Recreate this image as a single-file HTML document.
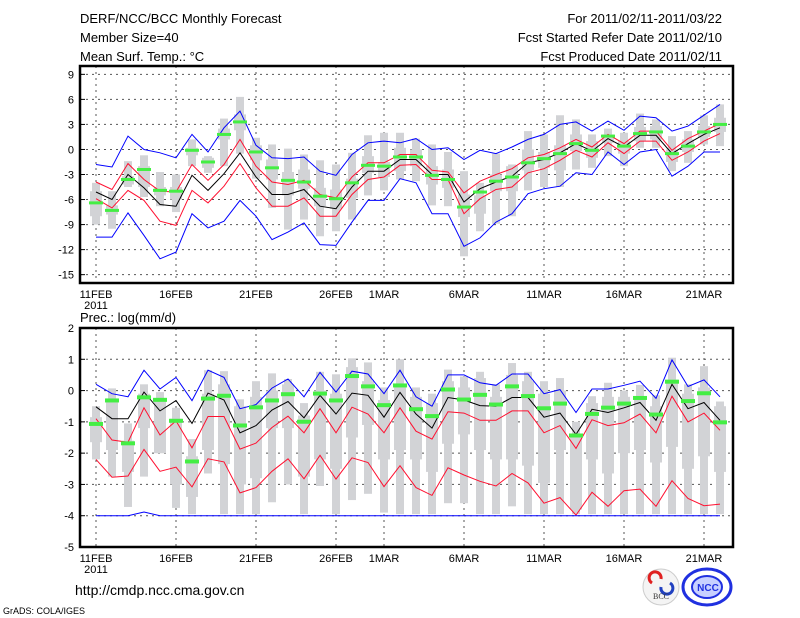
<!DOCTYPE html>
<html><head><meta charset="utf-8"><style>
html,body{margin:0;padding:0;background:#fff;}
svg{display:block;font-family:"Liberation Sans",sans-serif;}
</style></head><body>
<svg id="chart" width="800" height="618" viewBox="0 0 800 618" xmlns="http://www.w3.org/2000/svg">
<rect width="800" height="618" fill="#fff"/>
<g font-size="13" fill="#000">
<text x="80" y="23">DERF/NCC/BCC Monthly Forecast</text>
<text x="80" y="42">Member Size=40</text>
<text x="80" y="61">Mean Surf. Temp.: °C</text>
<text x="722" y="23" text-anchor="end">For 2011/02/11-2011/03/22</text>
<text x="722" y="42" text-anchor="end">Fcst Started Refer Date 2011/02/10</text>
<text x="722" y="61" text-anchor="end">Fcst Produced Date 2011/02/11</text>
</g>
<text x="80" y="322" font-size="13">Prec.: log(mm/d)</text>
<text x="75" y="595" font-size="14">http://cmdp.ncc.cma.gov.cn</text>
<text x="3" y="614" font-size="9">GrADS: COLA/IGES</text>
<g>
<circle cx="661" cy="587" r="18" fill="#f4f4f4" stroke="#ccc"/>
<path d="M652,583 a6,6 0 1 1 9,-4" stroke="#e02020" stroke-width="3" fill="none"/>
<path d="M670,583 a6,6 0 1 1 -9,4" stroke="#2040c0" stroke-width="3" fill="none"/>
<text x="661" y="599" font-size="8" text-anchor="middle" font-family="Liberation Serif,serif" fill="#333">BCC</text>
</g>
<g>
<ellipse cx="707" cy="587" rx="24" ry="18" fill="none" stroke="#2030e0" stroke-width="3"/>
<ellipse cx="707" cy="587" rx="15" ry="11" fill="#c8d0ff" stroke="#2030e0" stroke-width="2"/>
<text x="708" y="591" font-size="10" font-weight="bold" text-anchor="middle" fill="#2030e0">NCC</text>
</g>
<g id="top"></g>
<g id="bot"></g>
</svg>
<script>
// ---- Temperature panel data (40 days, 11FEB..22MAR) ----
const tBlueHi=[-1.8,-2.1,1.6,0,-0.4,-1.0,1.8,-0.3,2.6,4.6,0.5,-1.0,-1.1,-0.9,-2.6,-3.1,-0.6,0.8,1.0,0.8,1.3,0,0.2,-1.2,-0.1,-0.5,0.3,1.2,1.8,3.0,3.3,2.2,3.4,2.3,4.0,3.8,2.2,2.8,4.1,5.4];
const tRedHi=[-3.9,-4.8,-1.7,-3.6,-5.0,-5.1,-1.8,-3.7,-1.8,1.2,-2.0,-3.9,-4.2,-3.7,-5.4,-5.8,-3.3,-1.6,-1.6,-0.6,-0.6,-2.5,-2.7,-5.2,-3.8,-3.0,-2.3,-1.0,-0.6,0.2,1.2,0.3,1.8,0.7,2.2,2.2,-0.1,1.3,2.2,3.1];
const tMean=[-5.1,-6.0,-3.0,-4.6,-6.6,-6.8,-3.1,-4.9,-2.9,-0.4,-3.3,-5.4,-5.4,-4.8,-6.8,-7.1,-4.5,-2.6,-2.6,-1.2,-1.2,-3.0,-3.0,-6.3,-4.7,-3.9,-3.2,-1.6,-1.2,-0.4,0.7,-0.2,1.3,0.3,1.7,1.7,-0.5,0.7,1.8,2.6];
const tRedLo=[-5.9,-7.0,-4.9,-6.1,-8.6,-9.1,-4.9,-6.4,-4.4,-1.7,-4.6,-6.8,-6.8,-5.8,-8.0,-8.0,-5.4,-3.6,-3.3,-1.9,-1.8,-3.6,-3.6,-7.7,-5.9,-4.8,-4.5,-2.8,-2.3,-1.3,-0.1,-0.9,0.8,-0.5,1.0,1.0,-1.3,-0.3,1.0,1.9];
const tBlueLo=[-10.5,-10.5,-7.6,-10.3,-13.1,-12.3,-7.7,-9.4,-8.6,-6.1,-8.0,-10.8,-9.9,-8.8,-11.4,-11.5,-8.7,-6.1,-6.1,-3.5,-4.0,-7.7,-7.7,-11.6,-10.6,-8.7,-7.7,-5.3,-4.7,-4.4,-2.8,-3.0,-0.3,-1.8,-0.3,0.0,-3.2,-2.0,-0.3,-0.3];
const tObs=[-6.4,-7.3,-3.6,-2.4,-4.9,-5.0,-0.1,-1.5,1.8,3.3,-0.3,-2.2,-3.7,-3.9,-5.6,-5.9,-4.0,-1.9,-2.0,-0.9,-0.9,-3.1,-3.6,-6.9,-5.1,-3.8,-3.3,-1.6,-1.1,-0.5,0.7,-0.1,1.6,0.4,1.9,2.1,-0.5,0.4,2.1,3.0];
const tMax=[-4,-5,-1.4,-0.7,-2.7,-3,1.2,-0.8,3.7,6.3,1.4,0.6,0.1,-0.6,-1.3,-1.8,-0.4,1.7,2.0,2.0,1.3,0.6,-0.3,-2.6,-4.0,-0.5,-1.8,2.2,1.8,4.1,3.6,1.8,2.5,2.0,4.3,3.6,1.6,2.2,4.1,5.4];
const tQ3=[-5,-6.7,-3.2,-2,-4.5,-4.5,0.2,-1,2.5,4.2,0.5,-1.2,-2.7,-2.4,-4.6,-4.8,-3.5,-0.8,-1.5,0.2,0,-2.0,-2.4,-5.4,-5.5,-3.0,-2.0,0,-0.3,0.5,1.8,1.0,1.8,1.0,2.7,2.8,0,1.2,2.8,3.8];
const tQ1=[-8,-7.8,-4.2,-4.5,-5.5,-6,-0.7,-2.2,1.2,2.3,-1.3,-3.6,-5.5,-4.7,-6.8,-7.1,-5.8,-2.8,-3.3,-2.6,-2.0,-4.2,-4.6,-8.1,-7.7,-5.0,-5.0,-2.5,-2.2,-2.5,-0.2,-1.0,0.8,-0.5,1.0,1.2,-1.5,-0.3,1.5,2.1];
const tMin=[-9,-9.5,-4.5,-5.7,-6.8,-7.5,-2,-2.8,-2,-0.5,-3.5,-7,-9.6,-8.4,-10.4,-9.8,-8.4,-5.5,-4.9,-3.6,-3.8,-6.7,-6.8,-12.8,-9.8,-8.9,-8,-4.9,-4.5,-4.5,-2.4,-2.2,-0.8,-2.0,0.2,0.2,-2.6,-1.6,0.6,0.4];
const tTicks=[9,6,3,0,-3,-6,-9,-12,-15];
// ---- Precipitation panel data ----
const pBlueHi=[0.2,-0.1,-0.2,0.65,0.05,0.42,-0.32,0.65,0.42,-0.58,-0.45,0.08,0.37,-0.2,0.58,-0.05,0.62,0.53,-0.1,0.65,-0.2,-0.5,0.5,0.5,0.25,0.17,0.53,0.53,-0.1,0.03,-0.7,0.05,0.05,0.17,0.3,-0.25,0.98,0.13,0.34,-0.2];
const pMean=[-0.52,-0.9,-0.9,-0.05,-0.65,-0.32,-1.05,-0.08,-0.3,-1.35,-1.12,-0.62,-0.35,-0.87,-0.15,-0.75,-0.08,-0.15,-0.85,-0.06,-0.75,-1.2,-0.22,-0.3,-0.48,-0.5,-0.22,-0.22,-0.85,-0.72,-1.4,-0.6,-0.7,-0.55,-0.38,-0.95,0.2,-0.58,-0.38,-0.95];
const pRedHi=[-0.9,-1.58,-1.65,-0.55,-1.42,-0.97,-1.83,-0.83,-0.83,-1.87,-1.68,-1.18,-0.82,-1.35,-0.58,-1.35,-0.53,-0.75,-1.35,-0.55,-1.3,-1.55,-0.68,-0.72,-0.95,-0.95,-0.65,-0.65,-1.35,-1.12,-1.85,-0.93,-1.12,-1.03,-0.75,-1.35,-0.18,-1.0,-0.72,-1.27];
const pRedLo=[-2.2,-2.77,-2.73,-1.88,-2.58,-2.45,-3.08,-2.18,-2.28,-3.27,-3.1,-2.58,-2.18,-2.82,-2.07,-2.83,-2.15,-2.3,-3.07,-2.4,-3.1,-3.35,-2.47,-2.7,-2.9,-3.05,-2.65,-2.95,-3.6,-3.42,-3.98,-3.25,-3.7,-3.2,-3.15,-3.7,-2.88,-3.45,-3.68,-3.63];
const pBlueLo=[-4,-4,-4,-3.88,-4,-4,-4,-4,-4,-4,-4,-4,-4,-4,-4,-4,-4,-4,-4,-4,-4,-4,-4,-4,-4,-4,-4,-4,-4,-4,-4,-4,-4,-4,-4,-4,-4,-4,-4,-4];
const pObs=[-1.05,-0.3,-1.67,-0.2,-0.28,-0.95,-2.25,-0.24,-0.15,-1.1,-0.52,-0.3,-0.1,-0.98,-0.08,-0.3,0.48,0.15,-0.45,0.18,-0.58,-0.8,0.05,-0.27,-0.12,-0.43,0.15,-0.16,-0.55,-0.4,-1.42,-0.73,-0.53,-0.4,-0.22,-0.75,0.3,-0.32,-0.07,-1.0];
const pMax=[-0.5,0.07,-1.05,0.2,-0.05,-0.55,-1.55,0.65,0.62,-0.28,0.3,0.55,0.37,-0.4,0.6,0.52,1.03,0.9,0.1,1.0,0.1,-0.1,0.67,0.45,0.6,0.2,0.88,0.6,0.3,0.4,-1.0,-0.18,0.25,0.0,0.18,-0.15,1.05,0.2,0.78,-0.35];
const pQ3=[-0.85,-0.25,-1.6,-0.1,-0.3,-0.9,-2.1,-0.1,0.2,-0.5,-0.2,0,0.2,-0.8,0,-0.1,0.75,0.3,-0.3,0.2,-0.2,-0.4,0.3,0.1,0.4,-0.2,0.5,0.3,-0.1,0,-1.45,-0.4,-0.2,-0.2,-0.2,-0.5,0.35,-0.1,0.1,-0.5];
const pQ1=[-1.65,-1.9,-2.6,-1.2,-2.0,-3.0,-3.4,-1.9,-2.35,-3.0,-2.8,-1.2,-1.2,-2.75,-2.2,-2.5,-1.5,-1.1,-2.2,-1.9,-2.2,-2.6,-1.7,-1.4,-1.9,-2.2,-2.2,-2.4,-2.95,-1.9,-3.8,-2.2,-2.65,-2.0,-1.9,-2.3,-1.8,-2.5,-2.1,-2.6];
const pMin=[-2.2,-2.75,-3.72,-2.75,-2.0,-3.75,-3.95,-2.65,-3.95,-3.95,-3.95,-3.57,-3.0,-3.95,-3.05,-3.95,-3.5,-3.3,-3.9,-3.95,-3.95,-3.95,-3.6,-3.6,-3.95,-3.95,-3.7,-3.95,-3.95,-3.95,-3.95,-3.95,-3.95,-3.95,-3.95,-3.95,-3.95,-3.95,-3.95,-3.95];
const pTicks=[2,1,0,-1,-2,-3,-4,-5];
const dateLabels=["11FEB","16FEB","21FEB","26FEB","1MAR","6MAR","11MAR","16MAR","21MAR"];
const dateIdx=[0,5,10,15,18,23,28,33,38];

const NS="http://www.w3.org/2000/svg";
const xd=d=>96+16*d;
function mk(parent,tag,attrs){const e=document.createElementNS(NS,tag);for(const k in attrs)e.setAttribute(k,attrs[k]);parent.appendChild(e);return e;}

function panel(g,top,bot,vmax,vmin,ticks,S,name){
  const y=v=>top+(vmax-v)/(vmax-vmin)*(bot-top);
  // grid
  ticks.forEach(t=>{
    if(t===vmax||t===vmin)return;
    const l=mk(g,'line',{x1:80,x2:733,y1:y(t),y2:y(t),stroke:'#555','stroke-dasharray':'2,4','stroke-width':1});
    
    
  });
  ticks.forEach(t=>{
    const tx=mk(g,'text',{x:74,y:y(t)+4,'font-size':11,'text-anchor':'end'});
    tx.textContent=String(t);
    
    
    mk(g,'line',{x1:80,x2:85,y1:y(t),y2:y(t),stroke:'#000'});
  });
  dateIdx.forEach((d,i)=>{
    const l=mk(g,'line',{x1:xd(d),x2:xd(d),y1:top,y2:bot,stroke:'#555','stroke-dasharray':'2,4'});
    
    
    const tx=mk(g,'text',{x:xd(d),y:bot+15,'font-size':11,'text-anchor':'middle'});
    tx.textContent=dateLabels[i];
    
    
  });
  const yr=mk(g,'text',{x:96,y:bot+26,'font-size':11,'text-anchor':'middle'});
  yr.textContent='2011';
  
  
  // bars
  for(let d=0;d<40;d++){
    const w=mk(g,'rect',{x:xd(d)-4,y:y(S.max[d]),width:8,height:Math.max(1,y(S.min[d])-y(S.max[d])),fill:'#d2d3d6'});
    
    
    const b=mk(g,'rect',{x:xd(d)-6,y:y(S.q3[d]),width:12,height:Math.max(1,y(S.q1[d])-y(S.q3[d])),fill:'#d2d3d6'});
    
    
  }
  const lines=[[S.bhi,'#0000ff','upper-blue-line'],[S.rhi,'#ff1030','upper-red-line'],[S.mean,'#000','ensemble-mean-line'],[S.rlo,'#ff1030','lower-red-line'],[S.blo,'#0000ff','lower-blue-line']];
  lines.forEach(([arr,c,n])=>{
    const p=mk(g,'polyline',{points:arr.map((v,d)=>xd(d)+','+y(v).toFixed(1)).join(' '),fill:'none',stroke:c,'stroke-width':1});
    
    
  });
  for(let d=0;d<40;d++){
    const m=mk(g,'rect',{x:xd(d)-7,y:y(S.obs[d])-1.5,width:14,height:S.h,fill:'#44ee44'});
    
    
  }
  const f=mk(g,'rect',{x:80,y:top,width:653,height:bot-top,fill:'none',stroke:'#000','stroke-width':2.5});
  
  
}
panel(document.getElementById('top'),66,283,10,-16,tTicks,{max:tMax,q3:tQ3,q1:tQ1,min:tMin,bhi:tBlueHi,rhi:tRedHi,mean:tMean,rlo:tRedLo,blo:tBlueLo,obs:tObs,h:3},'temperature-panel');
panel(document.getElementById('bot'),328,547,2,-5,pTicks,{max:pMax,q3:pQ3,q1:pQ1,min:pMin,bhi:pBlueHi,rhi:pRedHi,mean:pMean,rlo:pRedLo,blo:pBlueLo,obs:pObs,h:4},'precip-panel');
</script>
</body></html>
